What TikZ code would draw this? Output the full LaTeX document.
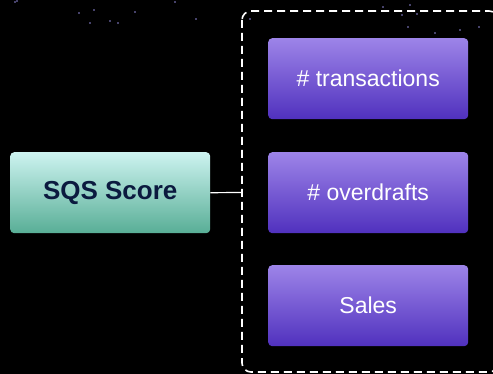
\documentclass[tikz,border=0pt]{standalone}
\usepackage{fontspec}
\setmainfont{Liberation Sans}
\definecolor{bg}{HTML}{000000}
\definecolor{greentop}{HTML}{CDF3F0}
\definecolor{greenbot}{HTML}{58AE96}
\definecolor{purptop}{HTML}{9D84E8}
\definecolor{purpbot}{HTML}{5031BE}
\definecolor{navy}{HTML}{0B1A3F}
\definecolor{star}{HTML}{8F86D8}
\begin{document}
\begin{tikzpicture}[x=1pt,y=-1pt,
  greenbox/.style={rounded corners=4pt, top color=greentop, bottom color=greenbot, draw=none},
  purplebox/.style={rounded corners=4pt, top color=purptop, bottom color=purpbot, draw=none},
  stardot/.style={fill=star, draw=none},
  conn/.style={draw=white, line width=1.2pt},
  group/.style={draw=white, line width=1.6pt, dash pattern=on 8pt off 5pt, rounded corners=9pt}]
\fill[bg] (0,0) rectangle (493,374);
\useasboundingbox (0,0) rectangle (493,374);
% stars
\foreach \sx/\sy in {15/2,17/1,79/13,94/10,90/23,110/21,118/23,135/12,196/19,383/7,410/5,402/15,417/14,408/27,435/33,460/30,479/27,250/19,175/2}
  \fill[stardot] (\sx,\sy) circle (0.9);
% group
\draw[group] (242,11) rectangle (498,372);
% nodes
\node[greenbox, minimum width=200pt, minimum height=81pt, anchor=north west, inner sep=0pt] (sqs) at (10,152) {};
\node[text=navy, font=\bfseries\fontsize{26}{30}\selectfont] (sqsl) at (sqs.center) {SQS Score};
\node[purplebox, minimum width=200pt, minimum height=81pt, anchor=north west, inner sep=0pt] (t) at (268,38) {};
\node[text=white, font=\fontsize{23}{27}\selectfont] (tl) at (t.center) {\# transactions};
\node[purplebox, minimum width=200pt, minimum height=81pt, anchor=north west, inner sep=0pt] (o) at (268,152) {};
\node[text=white, font=\fontsize{23}{27}\selectfont] (ol) at (o.center) {\# overdrafts};
\node[purplebox, minimum width=200pt, minimum height=81pt, anchor=north west, inner sep=0pt] (s) at (268,265) {};
\node[text=white, font=\fontsize{23}{27}\selectfont] (sl) at (s.center) {Sales};
\coordinate (gl) at (242,192.5);
\draw[conn] (sqs.east) -- (gl);
\end{tikzpicture}
\end{document}
